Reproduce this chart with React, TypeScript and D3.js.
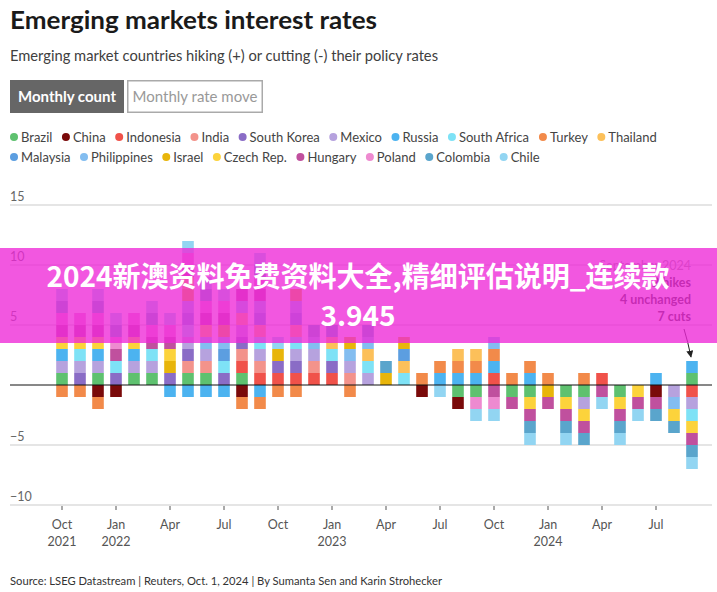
import React from "react";
import * as d3 from "d3";

const countries = ["Brazil","China","Indonesia","India","South Korea","Mexico","Russia","South Africa","Turkey","Thailand","Malaysia","Philippines","Israel","Czech Rep.","Hungary","Poland","Colombia","Chile"];
const colors = ["#5ec16f","#7a0a0a","#f0524a","#f3938b","#8a6cc6","#b6a2de","#4cb3f0","#7ee2f6","#f28a4a","#fcc05a","#5c9ee0","#83bdf0","#e8b50a","#fcd33b","#c0509e","#ee8ad0","#5aa5cc","#92d5f2"];

const months = [
  "2021-10","2021-11","2021-12","2022-01","2022-02","2022-03","2022-04","2022-05","2022-06","2022-07","2022-08","2022-09",
  "2022-10","2022-11","2022-12","2023-01","2023-02","2023-03","2023-04","2023-05","2023-06","2023-07","2023-08","2023-09",
  "2023-10","2023-11","2023-12","2024-01","2024-02","2024-03","2024-04","2024-05","2024-06","2024-07","2024-08","2024-09"
];

const hikes: string[][] = [
  ["Brazil","Mexico","Russia","Czech Rep.","Hungary","Poland","Colombia","Chile"],
  ["South Korea","Mexico","South Africa","Czech Rep.","Hungary","Poland"],
  ["Brazil","Mexico","Russia","Czech Rep.","Hungary","Poland","Colombia","Chile"],
  ["South Korea","South Africa","Hungary","Poland","Colombia","Chile"],
  ["Brazil","Mexico","Russia","Czech Rep.","Hungary","Poland"],
  ["Brazil","Mexico","South Africa","Hungary","Poland","Colombia","Chile"],
  ["South Korea","Israel","Czech Rep.","Hungary","Poland","Chile"],
  ["Brazil","India","South Korea","Mexico","South Africa","Malaysia","Philippines","Israel","Czech Rep.","Hungary","Poland","Chile"],
  ["Brazil","India","Mexico","Philippines","Czech Rep.","Hungary","Poland","Colombia","Chile"],
  ["South Korea","South Africa","Malaysia","Philippines","Israel","Hungary","Poland","Chile"],
  ["Brazil","Indonesia","India","South Korea","Mexico","Thailand","Philippines","Hungary"],
  ["Indonesia","India","Mexico","South Africa","Thailand","Malaysia","Philippines","Hungary","Poland","Colombia","Chile"],
  ["Indonesia","South Korea","Israel","Chile"],
  ["Indonesia","South Korea","Mexico","South Africa","Thailand","Malaysia","Philippines","Israel"],
  ["Indonesia","India","Mexico","Philippines","Colombia"],
  ["Indonesia","South Korea","South Africa","Thailand","Colombia"],
  ["India","Mexico","Philippines","Israel"],
  ["Mexico","South Africa","Thailand","Philippines","Colombia"],
  ["Israel","Colombia"],
  ["South Africa","Thailand","Malaysia","Israel"],
  ["Turkey"],
  ["Russia","Turkey"],
  ["Russia","Turkey","Thailand"],
  ["Russia","Turkey","Thailand"],
  ["Indonesia","Russia","Turkey","Philippines"],
  ["Turkey"],
  ["Russia","Turkey"],
  ["Turkey"],
  [],
  ["Turkey"],
  ["Indonesia"],
  [],
  [],
  ["Russia"],
  [],
  ["Brazil","Russia"]
];

const cuts: string[][] = [
  ["Turkey"],
  ["Turkey"],
  ["China","Turkey"],
  ["China"],
  [],
  [],
  ["Russia"],
  ["Russia"],
  ["Russia"],
  ["Russia"],
  ["China","Turkey"],
  ["Russia","Turkey"],
  ["Turkey"],
  ["Turkey"],
  [],
  [],
  ["Turkey"],
  [],
  [],
  [],
  ["China"],
  ["Chile"],
  ["Brazil","China"],
  ["Brazil","Poland","Chile"],
  ["Hungary","Poland","Chile"],
  ["Brazil","Hungary"],
  ["Brazil","Czech Rep.","Hungary","Colombia","Chile"],
  ["Israel","Hungary"],
  ["Brazil","Czech Rep.","Hungary","Colombia","Chile"],
  ["Brazil","Mexico","Czech Rep.","Hungary","Colombia"],
  ["Hungary","Chile"],
  ["Brazil","Czech Rep.","Hungary","Colombia","Chile"],
  ["Czech Rep.","Hungary","Chile"],
  ["China","Hungary","Colombia"],
  ["Mexico","Philippines","Czech Rep.","Colombia"],
  ["Indonesia","Mexico","South Africa","Czech Rep.","Hungary","Colombia","Chile"]
];

const yTicks = [15, 10, 5, -5, -10];
const monthNames = ["Jan","Feb","Mar","Apr","May","Jun","Jul","Aug","Sep","Oct","Nov","Dec"];
const annotationLines = ["September 2024", "2 hikes", "4 unchanged", "7 cuts"];
const bannerLines = ["2024新澳资料免费资料大全,精细评估说明_连续款", "3.945"];

const FONT = "Lato, 'Open Sans', sans-serif";

let _ctx: CanvasRenderingContext2D | null = null;
function measure(text: string, font: string): number {
  if (!_ctx) _ctx = document.createElement("canvas").getContext("2d");
  if (!_ctx) return text.length * 7;
  _ctx.font = font;
  return _ctx.measureText(text).width;
}

export default function App() {
  const W = 717, H = 592;
  const x = d3.scaleLinear().domain([0, months.length - 1]).range([62, 692]);
  const y = d3.scaleLinear().domain([-10, 15]).range([505, 205]);
  const color = d3.scaleOrdinal<string, string>().domain(countries).range(colors);
  const barW = 11.6;
  const unit = y(0) - y(1);

  // sort by legend order
  const order = (arr: string[]) => [...arr].sort((a, b) => countries.indexOf(a) - countries.indexOf(b));

  const blocks: { key: string; x: number; y: number; c: string }[] = [];
  months.forEach((m, i) => {
    order(hikes[i]).forEach((c, k) => {
      blocks.push({ key: `h${i}-${k}`, x: x(i) - barW / 2, y: y(k + 1), c: color(c) });
    });
    order(cuts[i]).forEach((c, k) => {
      blocks.push({ key: `c${i}-${k}`, x: x(i) - barW / 2, y: y(-k), c: color(c) });
    });
  });

  // legend layout
  const legFont = `13px ${FONT}`;
  const rows = [countries.slice(0, 10), countries.slice(10)];
  const legendItems: { name: string; cx: number; cy: number; c: string }[] = [];
  rows.forEach((row, r) => {
    let cx = 14;
    row.forEach((name) => {
      legendItems.push({ name, cx, cy: 137 + r * 20, c: color(name) });
      cx += 7 + measure(name, legFont) + 13.5;
    });
  });

  const tickIdx = d3.range(0, months.length, 3);

  return (
    <svg width={W} height={H} style={{ position: "absolute", left: 0, top: 0, background: "#fff" }} fontFamily={FONT}>
      <rect x={0} y={0} width={W} height={H} fill="#fff" />
      <text x={10} y={29} fontSize={24} fontWeight={700} fill="#1a1a1a" textLength={367} lengthAdjust="spacingAndGlyphs">Emerging markets interest rates</text>
      <text x={10} y={61} fontSize={15} fill="#404040" textLength={428} lengthAdjust="spacingAndGlyphs">Emerging market countries hiking (+) or cutting (-) their policy rates</text>

      <rect x={10} y={80} width={114} height={33} fill="#666" />
      <text x={67} y={102} fontSize={15} fontWeight={700} fill="#fff" textAnchor="middle">Monthly count</text>
      <rect x={127.75} y={80.75} width={134.5} height={31.5} fill="#fff" stroke="#aaa" strokeWidth={1.5} />
      <text x={195} y={102} fontSize={15} fill="#999" textAnchor="middle">Monthly rate move</text>

      {legendItems.map((d) => (
        <g key={d.name}>
          <circle cx={d.cx} cy={d.cy} r={4} fill={d.c} />
          <text x={d.cx + 7} y={d.cy + 4.5} fontSize={13} fill="#444">{d.name}</text>
        </g>
      ))}

      {yTicks.map((t) => (
        <g key={t}>
          <line x1={10} x2={712} y1={y(t)} y2={y(t)} stroke="#dddddd" strokeWidth={1.5} />
          <text x={10} y={y(t) - 4} fontSize={12.5} fill="#666">{t < 0 ? `\u2212${-t}` : t}</text>
        </g>
      ))}

      {blocks.map((b) => (
        <rect key={b.key} x={b.x} y={b.y} width={barW} height={unit} fill={b.c} />
      ))}

      <line x1={10} x2={712} y1={y(0)} y2={y(0)} stroke="#111" strokeWidth={1} />

      {tickIdx.map((i) => {
        const [yr, mo] = months[i].split("-").map(Number);
        const showYear = i === 0 || mo === 1;
        return (
          <g key={i}>
            <line x1={x(i)} x2={x(i)} y1={y(-10) + 1} y2={y(-10) + 5} stroke="#555" strokeWidth={1} />
            <text x={x(i)} y={529} fontSize={12.5} fill="#555" textAnchor="middle">{monthNames[mo - 1]}</text>
            {showYear && <text x={x(i)} y={546} fontSize={12.5} fill="#555" textAnchor="middle">{yr}</text>}
          </g>
        );
      })}

      {annotationLines.map((t, i) => (
        <text key={t} x={691} y={270 + i * 17} fontSize={12.5} fontWeight={i === 0 ? 400 : 700} fill={i === 0 ? "#999" : "#333"} textAnchor="end">{t}</text>
      ))}
      <defs>
        <marker id="arr" viewBox="0 0 10 10" refX={9} refY={5} markerWidth={7} markerHeight={7} orient="auto">
          <path d="M0,0 L10,5 L0,10 z" fill="#222" />
        </marker>
      </defs>
      <path d="M684,329 Q688,342 691,357" fill="none" stroke="#222" strokeWidth={1} markerEnd="url(#arr)" />

      <text x={10} y={585} fontSize={12} fill="#333" textLength={432} lengthAdjust="spacingAndGlyphs">Source: LSEG Datastream | Reuters, Oct. 1, 2024 | By Sumanta Sen and Karin Strohecker</text>

      <rect x={0} y={248} width={W} height={95} fill="rgb(238,40,215)" opacity={0.78} />
      {bannerLines.map((t, i) => (
        <text key={i} x={358} y={287 + i * 39} fontSize={28} fontWeight={700} fill="#fff" textAnchor="middle" fontFamily="'Noto Sans CJK SC', 'Noto Sans', sans-serif">{t}</text>
      ))}
    </svg>
  );
}
